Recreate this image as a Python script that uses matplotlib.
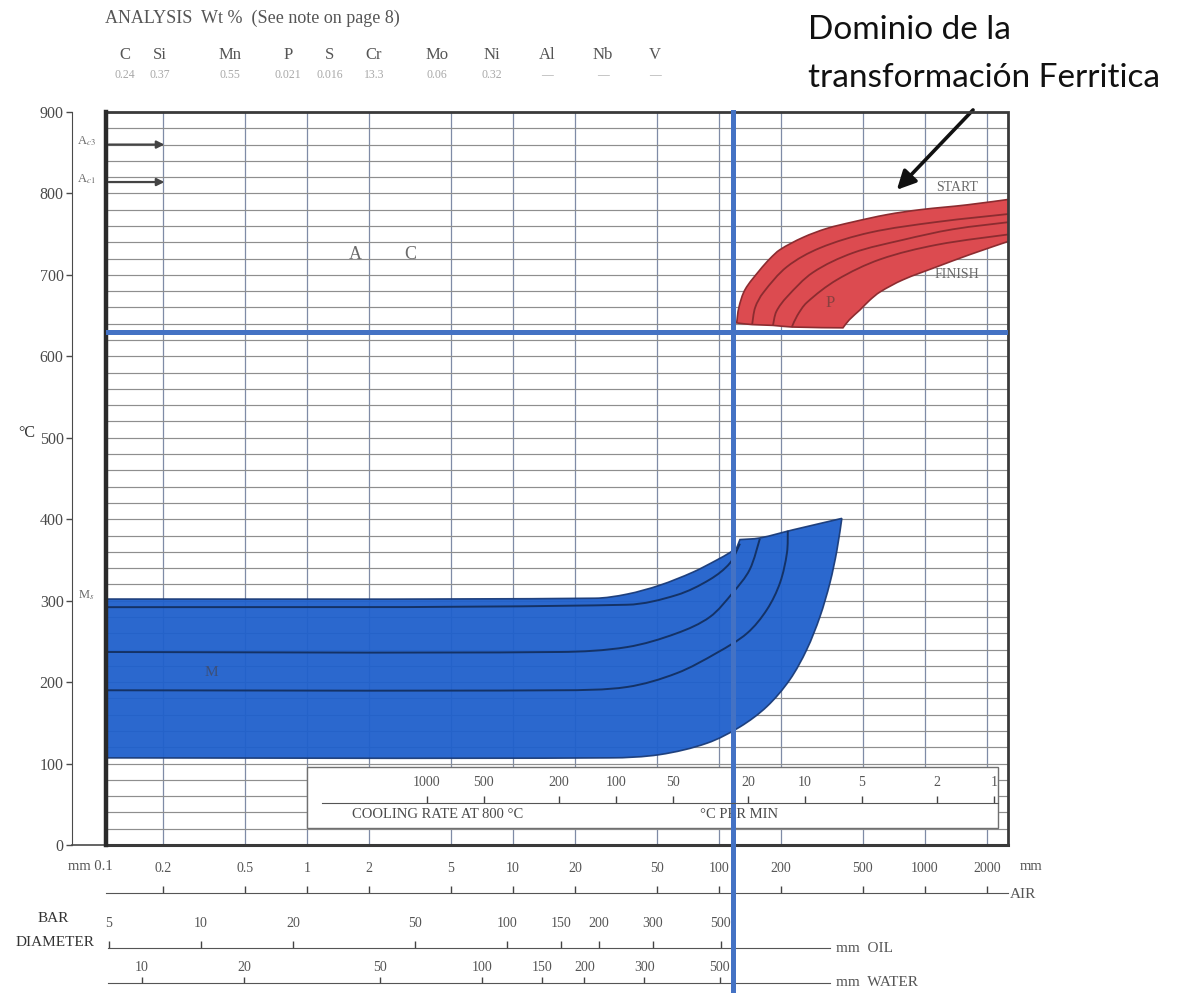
import numpy as np
import matplotlib
matplotlib.use("Agg")
import matplotlib.pyplot as plt
from matplotlib.patches import PathPatch, Rectangle
from matplotlib.path import Path
from matplotlib.ticker import MultipleLocator, NullLocator

plt.rcParams['font.family'] = ['Liberation Serif', 'DejaVu Serif']
plt.rcParams['mathtext.fontset'] = 'stix'

W, H = 1184, 993

# chemical analysis, wt %
elements = ["C", "Si", "Mn", "P", "S", "Cr", "Mo", "Ni", "Al", "Nb", "V"]
contents = ["0.24", "0.37", "0.55", "0.021", "0.016", "13.3", "0.06", "0.32", "—", "—", "—"]

# bar diameter scales (mm) and cooling rate scale (°C/min)
air_ticks = [0.2, 0.5, 1, 2, 5, 10, 20, 50, 100, 200, 500, 1000, 2000]
air_labels = ["0.2", "0.5", "1", "2", "5", "10", "20", "50", "100", "200", "500", "1000", "2000"]
oil_ticks = [5, 10, 20, 50, 100, 150, 200, 300, 500]
oil_labels = ["5", "10", "20", "50", "100", "150", "200", "300", "500"]
water_ticks = [10, 20, 50, 100, 150, 200, 300, 500]
water_labels = ["10", "20", "50", "100", "150", "200", "300", "500"]
rate_ticks = [1000, 500, 200, 100, 50, 20, 10, 5, 2, 1]
rate_labels = ["1000", "500", "200", "100", "50", "20", "10", "5", "2", "1"]

# critical temperatures (°C)
ac3 = 860
ac1 = 814
limit_T = 630      # horizontal marker
limit_d = 117      # vertical marker, air-cooled diameter (mm)

# ferrite field: start / finish curves (air-cooled diameter mm, °C)
f_start_d = [122, 125, 134, 158, 177, 198, 256, 334, 447, 655, 946, 1604, 2600]
f_start_T = [641, 660, 682, 706, 720, 731, 746, 757, 765, 774, 780, 786, 793]
f_finish_d = [2600, 1654, 1144, 782, 605, 540, 484, 430, 400]
f_finish_T = [742, 725, 710, 694, 679, 669, 657, 645, 635]
f_base_d = [400, 226, 183, 145, 122]
f_base_T = [635, 636, 638, 639, 641]
f_mid1_d = [145, 150, 164, 214, 309, 541, 1144, 2600]
f_mid1_T = [639, 660, 678, 710, 733, 752, 765, 775]
f_mid2_d = [183, 190, 214, 286, 447, 782, 1367, 2600]
f_mid2_T = [638, 655, 673, 703, 727, 743, 756, 765]
f_mid3_d = [226, 240, 267, 374, 605, 1144, 2600]
f_mid3_T = [636, 650, 666, 694, 719, 737, 750]

# martensite field
m_top_d = [0.1, 25, 35.8, 51.7, 74.8, 97.8, 113, 122]
m_top_T = [302, 303, 308, 319, 335, 350, 359, 365]
m_cap_d = [126.5, 158, 229, 395]
m_cap_T = [375, 377, 387, 401]
m_edge_d = [395, 374, 346, 309, 267, 221, 171, 126.5, 87.5, 51.7, 29.6, 0.1]
m_edge_T = [401, 362, 322, 280, 240, 203, 170, 145, 125, 111, 107, 107]
m_l1_d = [0.1, 35.8, 62.5, 90.4, 113, 126.5]
m_l1_T = [292, 295, 307, 326, 346, 370]
m_l2_d = [0.1, 16.9, 35.8, 62.5, 90.4, 117, 141, 158]
m_l2_T = [237, 237, 243, 260, 280, 310, 338, 376]
m_l3_d = [0.1, 16.9, 35.8, 62.5, 97.8, 137, 171, 198, 214, 216]
m_l3_T = [190, 190, 194, 211, 236, 260, 289, 322, 359, 386]

GREY = '#4a4a4a'
LIGHT = '#6a6a6a'
SX, SY = 206.0, 0.814   # screen pixels per decade / per °C


def fx(x):
    return x / W


def fy(y):
    return 1 - y / H


def bezier(d, t):
    # smooth cubic segments through the given points, built in log-x space
    p = np.column_stack([np.log10(d) * SX, np.asarray(t, float) * SY])
    h = np.hypot(*np.diff(p, axis=0).T)
    verts = []
    for i in range(len(p) - 1):
        p0 = p[i - 1] if i > 0 else p[i]
        hp = h[i - 1] if i > 0 else h[i]
        p3 = p[i + 2] if i + 2 < len(p) else p[i + 1]
        hn = h[i + 1] if i + 1 < len(h) else h[i]
        c1 = p[i] + (p[i + 1] - p0) * h[i] / (hp + h[i]) / 3
        c2 = p[i + 1] - (p3 - p[i]) * h[i] / (h[i] + hn) / 3
        verts += [c1, c2, p[i + 1]]
    v = np.vstack([p[:1], verts])
    return np.column_stack([10 ** (v[:, 0] / SX), v[:, 1] / SY])


def curve_path(pieces, closed=False):
    verts, codes = [], []
    for k, (d, t) in enumerate(pieces):
        v = bezier(d, t)
        verts.append(v)
        codes += [Path.MOVETO if k == 0 else Path.LINETO] + [Path.CURVE4] * (len(v) - 1)
    verts = np.vstack(verts)
    if closed:
        verts = np.vstack([verts, verts[:1]])
        codes.append(Path.CLOSEPOLY)
    return Path(verts, codes)


fig = plt.figure(figsize=(W / 100, H / 100), dpi=100)

ax = fig.add_axes([fx(106), fy(845), (1008 - 106) / W, (845 - 112) / H])
ax.set_zorder(2)
ax.set_xscale('log')
ax.set_xlim(0.106, 2530)
ax.set_ylim(0, 900)

# grid
ax.set_xticks(air_ticks)
ax.set_xticklabels([])
ax.xaxis.set_minor_locator(NullLocator())
ax.tick_params(axis='x', length=0)
ax.yaxis.set_major_locator(MultipleLocator(100))
ax.yaxis.set_minor_locator(MultipleLocator(20))
ax.tick_params(axis='y', which='minor', length=0)
ax.tick_params(axis='y', which='major', direction='out', length=4, width=1,
               color=GREY, labelsize=11.5, labelcolor=GREY, pad=2)
ax.grid(axis='x', color='#7f8ba6', lw=0.9)
ax.grid(axis='y', which='both', color='#8e8e8e', lw=0.85)

for s in ('top', 'right'):
    ax.spines[s].set_visible(False)
ax.spines['left'].set_position(('outward', 24.5))
ax.spines['left'].set_color(GREY)
ax.spines['bottom'].set_linewidth(2.2)
ax.spines['bottom'].set_color('#2e2e2e')
ax.add_patch(Rectangle((0, 0), 1, 1, transform=ax.transAxes, fill=False,
                       ec='#3a3a3a', lw=2.0, zorder=5, clip_on=False))
ax.plot([0, 0], [0, 1], transform=ax.transAxes, lw=3.2, color='#2a2a2a',
        clip_on=False, zorder=5)
ax.plot([-34 / 902, 0], [0, 0], transform=ax.transAxes, lw=1.2, color=GREY,
        clip_on=False)

fig.text(fx(27), fy(433), "°C", ha='center', va='center', fontsize=11.5, color='#333')

# Ac3 / Ac1 arrows
for t, lab in ((ac3, r"A$_{c3}$"), (ac1, r"A$_{c1}$")):
    ax.annotate('', xy=(0.21, t), xytext=(0.106, t),
                arrowprops=dict(arrowstyle='-|>', color='#444', lw=1.6, mutation_scale=11))
    ax.text(0.085, t + 4, lab, ha='center', va='center', fontsize=9, color=LIGHT)
ax.text(0.085, 307, r"M$_s$", ha='center', va='center', fontsize=9, color=LIGHT)

# martensite field
m_path = curve_path([(m_top_d, m_top_T), (m_cap_d, m_cap_T), (m_edge_d, m_edge_T)], closed=True)
ax.add_patch(PathPatch(m_path, fc='#1f60cc', ec='#1a3b78', lw=1.2, alpha=0.95, zorder=3))
for d, t in ((m_l1_d, m_l1_T), (m_l2_d, m_l2_T), (m_l3_d, m_l3_T)):
    ax.add_patch(PathPatch(curve_path([(d, t)]), fill=False, ec='#143266', lw=1.4, zorder=3.5))
ax.text(0.345, 212, "M", ha='center', va='center', fontsize=11, color='#3c4f78', zorder=4)

# ferrite field
f_path = curve_path([(f_start_d, f_start_T), (f_finish_d, f_finish_T), (f_base_d, f_base_T)],
                    closed=True)
ax.add_patch(PathPatch(f_path, fc='#dc4b50', ec='#8c2c30', lw=1.2, zorder=3))
for d, t in ((f_mid1_d, f_mid1_T), (f_mid2_d, f_mid2_T), (f_mid3_d, f_mid3_T)):
    ax.add_patch(PathPatch(curve_path([(d, t)]), fill=False, ec='#8c2c30', lw=1.3, zorder=3.5))
ax.text(346, 666, "P", ha='center', va='center', fontsize=12, color='#8a4040', zorder=4)
ax.text(1430, 807, "START", ha='center', va='center', fontsize=10, color=LIGHT)
ax.text(1430, 700, "FINISH", ha='center', va='center', fontsize=10, color=LIGHT)

ax.text(1.71, 725, "A", ha='center', va='center', fontsize=13, color=LIGHT)
ax.text(3.16, 725, "C", ha='center', va='center', fontsize=13, color=LIGHT)

# marker lines
ax.axhline(limit_T, color='#4472c4', lw=3.6, zorder=6)
ax.axvline(limit_d, ymin=-0.205, ymax=1, color='#4472c4', lw=3.6, zorder=6, clip_on=False)

# cooling rate box
ax.add_patch(Rectangle((0.2228, 0.0232), 0.7661, 0.0832, transform=ax.transAxes,
                       fc='white', ec='#707070', lw=1.0, zorder=4.5))
ax.text(fx(352), fy(815), "COOLING RATE AT 800 °C", transform=fig.transFigure,
        ha='left', va='center', fontsize=10.5, color=GREY, zorder=5)
ax.text(fx(700), fy(815), "°C PER MIN", transform=fig.transFigure,
        ha='left', va='center', fontsize=10.5, color=GREY, zorder=5)


def scale_axis(x0, x1, y, lims, ticks, labels, z=1, length=5, pad=8):
    a = fig.add_axes([fx(x0), fy(y), (x1 - x0) / W, 1e-4])
    a.set_xscale('log')
    a.set_xlim(*lims)
    a.patch.set_visible(False)
    for s in ('left', 'right', 'bottom'):
        a.spines[s].set_visible(False)
    a.spines['top'].set_color('#555555')
    a.set_yticks([])
    a.xaxis.tick_top()
    a.set_xticks(ticks)
    a.set_xticklabels(labels)
    a.xaxis.set_minor_locator(NullLocator())
    a.tick_params(axis='x', direction='out', length=length, width=1, color='#444444',
                  pad=pad, labelsize=10, labelcolor='#555555')
    a.set_zorder(z)
    return a


scale_axis(322, 998, 803, (3594, 0.952), rate_ticks, rate_labels, z=3, pad=5)
scale_axis(106, 1008, 893, (0.106, 2530), air_ticks, air_labels)
scale_axis(108, 830, 948, (4.97, 1137), oil_ticks, oil_labels)
scale_axis(108, 830, 983, (7.94, 1056), water_ticks, water_labels, length=4, pad=2.5)

fig.text(fx(90), fy(867), "mm 0.1", ha='center', va='center', fontsize=10.5, color='#555')
fig.text(fx(1020), fy(867), "mm", ha='left', va='center', fontsize=10.5, color='#555')
fig.text(fx(1010), fy(895), "AIR", ha='left', va='center', fontsize=11, color='#555')
fig.text(fx(836), fy(948), "mm  OIL", ha='left', va='center', fontsize=11, color='#555')
fig.text(fx(836), fy(983), "mm  WATER", ha='left', va='center', fontsize=11, color='#555')
fig.text(fx(53), fy(918), "BAR", ha='center', va='center', fontsize=11, color='#333')
fig.text(fx(55), fy(942), "DIAMETER", ha='center', va='center', fontsize=11, color='#333')

# analysis header
fig.text(fx(105), fy(18), "ANALYSIS  Wt %  (See note on page 8)", ha='left', va='center',
         fontsize=13, color='#555')
el_x = [125, 160, 230, 288, 330, 374, 437, 492, 547, 603, 655]
for x, el, c in zip(el_x, elements, contents):
    fig.text(fx(x), fy(55), el, ha='center', va='center', fontsize=12, color='#555')
    fig.text(fx(x), fy(75), c, ha='center', va='center', fontsize=8.5, color='#a8a8a8')

# annotation
fig.text(fx(808), fy(30), "Dominio de la", ha='left', va='center', fontsize=24,
         family=['Lato', 'DejaVu Sans'], color='#111')
fig.text(fx(808), fy(78), "transformación Ferritica", ha='left', va='center', fontsize=24,
         family=['Lato', 'DejaVu Sans'], color='#111')
ax.annotate('', xy=(715, 802), xytext=(1749, 905), annotation_clip=False,
            arrowprops=dict(arrowstyle='-|>', color='#111', lw=2.6, mutation_scale=28))

fig.savefig("out.png", dpi=100)
